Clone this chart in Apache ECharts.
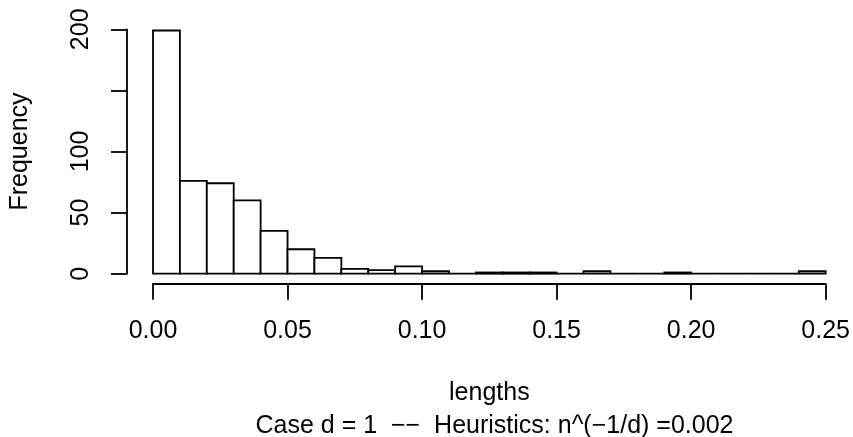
<!DOCTYPE html>
<html>
<head>
<meta charset="utf-8">
<script src="https://cdn.jsdelivr.net/npm/echarts@6/dist/echarts.min.js"></script>
<style>
html,body{margin:0;padding:0;background:#fff;}
#chart{width:853px;height:437px;}
</style>
</head>
<body>
<div id="chart"></div>
<script>
// Histogram bin edges (lengths) and counts per bin
var binEdges = [0.00, 0.01, 0.02, 0.03, 0.04, 0.05, 0.06, 0.07, 0.08, 0.09, 0.10,
                0.11, 0.12, 0.13, 0.14, 0.15, 0.16, 0.17, 0.18, 0.19, 0.20,
                0.21, 0.22, 0.23, 0.24, 0.25];
var counts = [199, 76, 74, 60, 35, 20, 13, 4, 3, 6, 2, 0, 1, 1, 1, 0, 2, 0, 0, 1, 0, 0, 0, 0, 2];
var yTickLabels = {0: '0', 50: '50', 100: '100', 150: '', 200: '200'};
var xTitle = 'lengths';
var yTitle = 'Frequency';
var subTitle = 'Case d = 1  \u2212\u2212  Heuristics: n^(\u22121/d) =0.002';

var data = counts.map(function (c, i) { return [binEdges[i], binEdges[i + 1], c]; });
var FONT = '"Liberation Sans", Arial, Helvetica, sans-serif';
var FS = 25;
var LW = 1.8;

var chart = echarts.init(document.getElementById('chart'), null, {renderer: 'canvas'});
chart.setOption({
  animation: false,
  backgroundColor: '#ffffff',
  title: {
    text: subTitle,
    left: 489.5,
    textAlign: 'center',
    top: 409,
    textStyle: {fontFamily: FONT, fontSize: FS, fontWeight: 'normal', color: '#000'}
  },
  grid: {left: 153, right: 27, top: 29.3, bottom: 163.3},
  xAxis: {
    type: 'value', min: 0, max: 0.25, interval: 0.05,
    offset: 10,
    name: xTitle, nameLocation: 'middle', nameGap: 97,
    nameTextStyle: {fontFamily: FONT, fontSize: FS, color: '#000'},
    axisLine: {show: true, onZero: false, lineStyle: {color: '#000', width: LW}},
    axisTick: {show: true, length: 16, lineStyle: {color: '#000', width: LW}},
    axisLabel: {margin: 35, fontFamily: FONT, fontSize: FS, color: '#000',
      formatter: function (v) { return v.toFixed(2); }},
    splitLine: {show: false}
  },
  yAxis: {
    type: 'value', min: 0, max: 200, interval: 50,
    offset: 26,
    name: yTitle, nameLocation: 'middle', nameGap: 94, nameRotate: 90,
    nameTextStyle: {fontFamily: FONT, fontSize: FS, color: '#000'},
    axisLine: {show: true, onZero: false, lineStyle: {color: '#000', width: LW}},
    axisTick: {show: true, length: 16, lineStyle: {color: '#000', width: LW}},
    axisLabel: {margin: 33, rotate: 90, fontFamily: FONT, fontSize: FS, color: '#000',
      formatter: function (v) { return yTickLabels[v] !== undefined ? yTickLabels[v] : ''; }},
    splitLine: {show: false}
  },
  series: [{
    type: 'custom',
    data: data,
    encode: {x: [0, 1], y: 2},
    renderItem: function (params, api) {
      var p0 = api.coord([api.value(0), api.value(2)]);
      var p1 = api.coord([api.value(1), 0]);
      return {
        type: 'rect',
        shape: {x: p0[0], y: p0[1], width: p1[0] - p0[0], height: p1[1] - p0[1]},
        style: {fill: '#ffffff', stroke: '#000000', lineWidth: LW}
      };
    }
  }]
});
</script>
</body>
</html>
